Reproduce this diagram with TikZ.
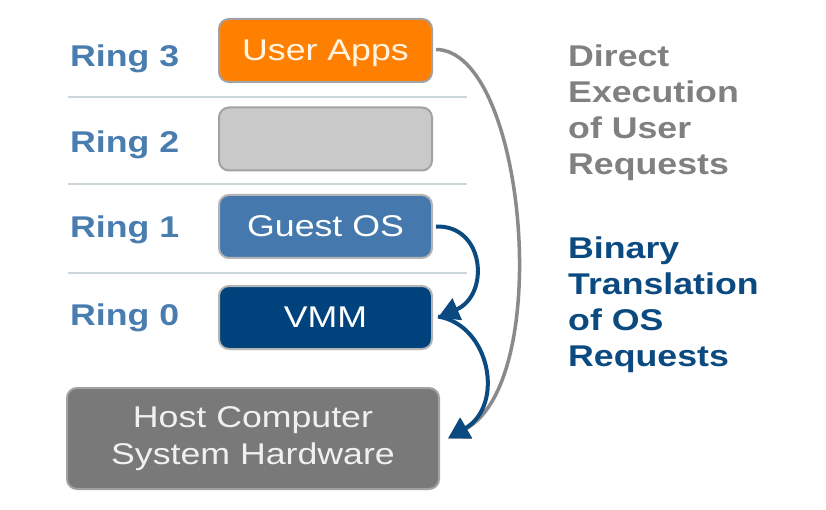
\documentclass[tikz,border=0pt]{standalone}
\usepackage{fontspec}
\usetikzlibrary{arrows.meta}
\newfontfamily\lsans[FakeStretch=1.19]{Liberation Sans}
\definecolor{orangebox}{HTML}{FF8000}
\definecolor{orangetext}{HTML}{FFF4E2}
\definecolor{lightbox}{HTML}{C9C9C9}
\definecolor{boxborder}{HTML}{A2A2A2}
\definecolor{guestbox}{HTML}{4579AD}
\definecolor{vmmbox}{HTML}{00437C}
\definecolor{hostbox}{HTML}{797979}
\definecolor{ringblue}{HTML}{4A7DAF}
\definecolor{sepline}{HTML}{CBD7DB}
\definecolor{grayarrow}{HTML}{8A8A8A}
\definecolor{bluearrow}{HTML}{0B4A80}
\definecolor{graytext}{HTML}{808080}
\tikzset{
  txt/.style={font=\lsans\fontsize{30}{37}\selectfont},
  ringbox/.style={txt, rounded corners=10pt, draw=boxborder, line width=2pt,
    minimum width=213pt, minimum height=63pt, inner sep=0pt, text=white},
  ringlabel/.style={txt, font=\lsans\bfseries\fontsize{30}{36}\selectfont,
    text=ringblue, anchor=base west, inner sep=0pt},
  sidelabel/.style={font=\lsans\bfseries\fontsize{30}{36}\selectfont,
    align=left, anchor=north west, inner sep=0pt},
  sep/.style={draw=sepline, line width=1.5pt},
  bluearr/.style={draw=bluearrow, line width=4pt, -{Triangle[length=21pt,width=23pt]}},
  grayarr/.style={draw=grayarrow, line width=3.5pt, -{Triangle[length=21pt,width=23pt]}}
}
\begin{document}
\begin{tikzpicture}[x=1pt,y=-1pt]
\useasboundingbox[fill=white] (0,0) rectangle (826,510);

% separators
\coordinate (s1a) at (68,97);  \coordinate (s1b) at (467,97);
\coordinate (s2a) at (68,184); \coordinate (s2b) at (467,184);
\coordinate (s3a) at (68,273); \coordinate (s3b) at (467,273);
\draw[sep] (s1a) -- (s1b);
\draw[sep] (s2a) -- (s2b);
\draw[sep] (s3a) -- (s3b);

% boxes
\node[ringbox, fill=orangebox, text=orangetext, text depth=0pt] (ua) at (325.5,50.5) {User Apps};
\node[ringbox, fill=lightbox] (r2) at (325.5,139) {};
\node[ringbox, fill=guestbox, draw=boxborder!80] (gos) at (325.5,226.5) {Guest OS};
\node[ringbox, fill=vmmbox, draw=boxborder!80] (vmm) at (325.5,317.5) {VMM};
\node[ringbox, fill=hostbox, text=white!94!black, minimum width=372pt,
  minimum height=101pt, align=center] (host) at (253,438.5)
  {\raisebox{-3pt}{\parbox{300pt}{\centering Host Computer\\System Hardware}}};

% ring labels
\node[ringlabel] (l3) at (70,67) {Ring 3};
\node[ringlabel] (l2) at (70,153) {Ring 2};
\node[ringlabel] (l1) at (70,238) {Ring 1};
\node[ringlabel] (l0) at (70,325) {Ring 0};

% side labels
\node[sidelabel, text=graytext] (direct) at (568,44.5)
  {Direct\\Execution\\of User\\Requests};
\node[sidelabel, text=bluearrow] (binary) at (568,236.5)
  {Binary\\Translation\\of OS\\Requests};

% connectors
\coordinate (uaout) at ([xshift=3pt,yshift=1pt]ua.east);
\coordinate (gosout) at ([xshift=3pt]gos.east);
\coordinate (vmmin) at ([xshift=5pt]vmm.east);
\coordinate (vmmout) at ([xshift=5pt,yshift=1pt]vmm.east);
\coordinate (hostin) at ([xshift=8pt]host.east);
\draw[grayarr] (uaout) .. controls (525,50) and (555,380) .. (hostin);
\draw[bluearr] (gosout) .. controls (485,225) and (490,295) .. (vmmin);
\draw[bluearr] (vmmout) .. controls (490,325) and (505,405) .. (hostin);
\end{tikzpicture}
\end{document}
